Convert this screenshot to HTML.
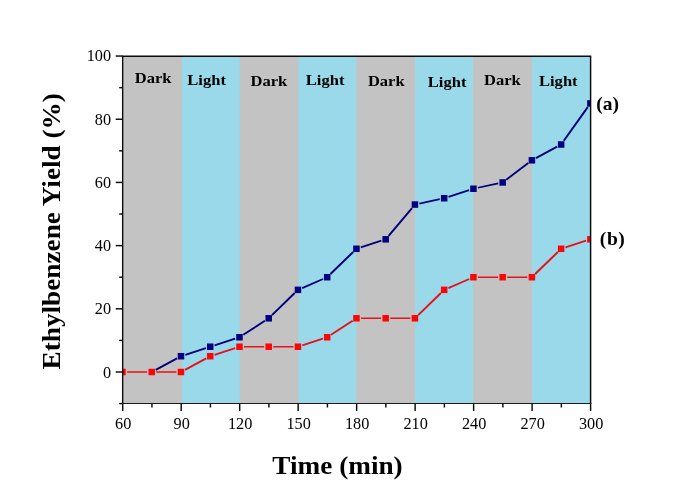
<!DOCTYPE html>
<html><head><meta charset="utf-8"><title>Ethylbenzene Yield vs Time</title>
<style>html,body{margin:0;padding:0;background:#fff}body{width:685px;height:484px;overflow:hidden;font-family:"Liberation Serif",serif}svg{display:block;will-change:transform;transform:translateZ(0)}text{font-family:"Liberation Serif",serif;fill:#000}.b{font-weight:bold}</style>
</head><body>
<svg width="685" height="484" viewBox="0 0 685 484">
<rect width="685" height="484" fill="#fff"/>
<defs><clipPath id="c"><rect x="122.7" y="56.05" width="467.9" height="347.55"/></clipPath></defs>
<rect x="123.4" y="56.9" width="466.6" height="346.1" fill="#c3c3c3"/>
<rect x="182" y="56.9" width="57.7" height="346.1" fill="#99d9ea"/>
<rect x="298.5" y="56.9" width="57.9" height="346.1" fill="#99d9ea"/>
<rect x="415.1" y="56.9" width="57.9" height="346.1" fill="#99d9ea"/>
<rect x="532" y="56.9" width="58" height="346.1" fill="#99d9ea"/>
<g clip-path="url(#c)" stroke="#00007a" stroke-width="1.4" fill="#000080">
<line x1="155.75" y1="369.84" x2="176.98" y2="358.37" stroke-width="1.88"/>
<line x1="185.32" y1="354.8" x2="205.9" y2="348.13" stroke-width="1.76"/>
<line x1="214.56" y1="345.33" x2="235.15" y2="338.65" stroke-width="1.76"/>
<line x1="243.29" y1="334.77" x2="264.9" y2="320.77" stroke-width="1.91"/>
<line x1="271.98" y1="315.12" x2="294.7" y2="293.03" stroke-width="1.95"/>
<line x1="302.14" y1="288.05" x2="323.03" y2="279.02" stroke-width="1.83"/>
<line x1="330.47" y1="274.05" x2="353.19" y2="251.95" stroke-width="1.95"/>
<line x1="360.78" y1="247.38" x2="381.37" y2="240.71" stroke-width="1.76"/>
<line x1="388.62" y1="235.82" x2="412.01" y2="208.03" stroke-width="1.94"/>
<line x1="419.38" y1="203.59" x2="439.73" y2="199.19" stroke-width="1.69"/>
<line x1="448.51" y1="196.83" x2="469.1" y2="190.15" stroke-width="1.76"/>
<line x1="477.87" y1="187.79" x2="498.22" y2="183.39" stroke-width="1.69"/>
<line x1="506.3" y1="179.69" x2="528.28" y2="163.06" stroke-width="1.93"/>
<line x1="535.92" y1="158.15" x2="557.15" y2="146.68" stroke-width="1.88"/>
<line x1="563.8" y1="140.81" x2="587.76" y2="107.15" stroke-width="1.93"/>
<rect x="177.74" y="352.96" width="6.5" height="6.5" stroke="none"/>
<rect x="206.98" y="343.48" width="6.5" height="6.5" stroke="none"/>
<rect x="236.23" y="334" width="6.5" height="6.5" stroke="none"/>
<rect x="265.47" y="315.04" width="6.5" height="6.5" stroke="none"/>
<rect x="294.71" y="286.61" width="6.5" height="6.5" stroke="none"/>
<rect x="323.96" y="273.97" width="6.5" height="6.5" stroke="none"/>
<rect x="353.2" y="245.53" width="6.5" height="6.5" stroke="none"/>
<rect x="382.44" y="236.05" width="6.5" height="6.5" stroke="none"/>
<rect x="411.69" y="201.3" width="6.5" height="6.5" stroke="none"/>
<rect x="440.93" y="194.98" width="6.5" height="6.5" stroke="none"/>
<rect x="470.18" y="185.5" width="6.5" height="6.5" stroke="none"/>
<rect x="499.42" y="179.18" width="6.5" height="6.5" stroke="none"/>
<rect x="528.66" y="157.06" width="6.5" height="6.5" stroke="none"/>
<rect x="557.91" y="141.27" width="6.5" height="6.5" stroke="none"/>
<rect x="587.15" y="100.19" width="6.5" height="6.5" stroke="none"/>
</g>
<g clip-path="url(#c)" stroke="#e8101a" stroke-width="1.4" fill="#fb0606">
<line x1="127.05" y1="372" x2="147.19" y2="372" stroke-width="1.5"/>
<line x1="156.29" y1="372" x2="176.44" y2="372" stroke-width="1.5"/>
<line x1="184.99" y1="369.84" x2="206.23" y2="358.37" stroke-width="1.88"/>
<line x1="214.56" y1="354.8" x2="235.15" y2="348.13" stroke-width="1.76"/>
<line x1="244.03" y1="346.73" x2="264.17" y2="346.73" stroke-width="1.5"/>
<line x1="273.27" y1="346.73" x2="293.41" y2="346.73" stroke-width="1.5"/>
<line x1="302.29" y1="345.33" x2="322.88" y2="338.65" stroke-width="1.76"/>
<line x1="331.02" y1="334.77" x2="352.63" y2="320.77" stroke-width="1.91"/>
<line x1="361" y1="318.29" x2="381.14" y2="318.29" stroke-width="1.5"/>
<line x1="390.24" y1="318.29" x2="410.39" y2="318.29" stroke-width="1.5"/>
<line x1="418.2" y1="315.12" x2="440.92" y2="293.03" stroke-width="1.95"/>
<line x1="448.36" y1="288.05" x2="469.25" y2="279.02" stroke-width="1.83"/>
<line x1="477.98" y1="277.22" x2="498.12" y2="277.22" stroke-width="1.5"/>
<line x1="507.22" y1="277.22" x2="527.36" y2="277.22" stroke-width="1.5"/>
<line x1="535.17" y1="274.05" x2="557.89" y2="251.95" stroke-width="1.95"/>
<line x1="565.48" y1="247.38" x2="586.07" y2="240.71" stroke-width="1.76"/>
<rect x="119.25" y="368.75" width="6.5" height="6.5" stroke="none"/>
<rect x="148.49" y="368.75" width="6.5" height="6.5" stroke="none"/>
<rect x="177.74" y="368.75" width="6.5" height="6.5" stroke="none"/>
<rect x="206.98" y="352.96" width="6.5" height="6.5" stroke="none"/>
<rect x="236.23" y="343.48" width="6.5" height="6.5" stroke="none"/>
<rect x="265.47" y="343.48" width="6.5" height="6.5" stroke="none"/>
<rect x="294.71" y="343.48" width="6.5" height="6.5" stroke="none"/>
<rect x="323.96" y="334" width="6.5" height="6.5" stroke="none"/>
<rect x="353.2" y="315.04" width="6.5" height="6.5" stroke="none"/>
<rect x="382.44" y="315.04" width="6.5" height="6.5" stroke="none"/>
<rect x="411.69" y="315.04" width="6.5" height="6.5" stroke="none"/>
<rect x="440.93" y="286.61" width="6.5" height="6.5" stroke="none"/>
<rect x="470.18" y="273.97" width="6.5" height="6.5" stroke="none"/>
<rect x="499.42" y="273.97" width="6.5" height="6.5" stroke="none"/>
<rect x="528.66" y="273.97" width="6.5" height="6.5" stroke="none"/>
<rect x="557.91" y="245.53" width="6.5" height="6.5" stroke="none"/>
<rect x="587.15" y="236.05" width="6.5" height="6.5" stroke="none"/>
</g>
<g stroke="#0a0a0a" stroke-width="1.45" fill="none">
<path d="M122.7 404V56.15H590.6V404"/>
<line x1="122" y1="403.5" x2="591.3" y2="403.5" stroke-width="1.05" stroke="#1c1c1c"/>
<line x1="119.2" y1="403.6" x2="122.7" y2="403.6"/>
<line x1="115.7" y1="372" x2="122.7" y2="372"/>
<line x1="119.2" y1="340.41" x2="122.7" y2="340.41"/>
<line x1="115.7" y1="308.81" x2="122.7" y2="308.81"/>
<line x1="119.2" y1="277.22" x2="122.7" y2="277.22"/>
<line x1="115.7" y1="245.62" x2="122.7" y2="245.62"/>
<line x1="119.2" y1="214.03" x2="122.7" y2="214.03"/>
<line x1="115.7" y1="182.43" x2="122.7" y2="182.43"/>
<line x1="119.2" y1="150.84" x2="122.7" y2="150.84"/>
<line x1="115.7" y1="119.24" x2="122.7" y2="119.24"/>
<line x1="119.2" y1="87.65" x2="122.7" y2="87.65"/>
<line x1="115.7" y1="56.05" x2="122.7" y2="56.05"/>
<line x1="122.7" y1="403.6" x2="122.7" y2="411"/>
<line x1="151.94" y1="403.6" x2="151.94" y2="407.5"/>
<line x1="181.19" y1="403.6" x2="181.19" y2="411"/>
<line x1="210.43" y1="403.6" x2="210.43" y2="407.5"/>
<line x1="239.68" y1="403.6" x2="239.68" y2="411"/>
<line x1="268.92" y1="403.6" x2="268.92" y2="407.5"/>
<line x1="298.16" y1="403.6" x2="298.16" y2="411"/>
<line x1="327.41" y1="403.6" x2="327.41" y2="407.5"/>
<line x1="356.65" y1="403.6" x2="356.65" y2="411"/>
<line x1="385.89" y1="403.6" x2="385.89" y2="407.5"/>
<line x1="415.14" y1="403.6" x2="415.14" y2="411"/>
<line x1="444.38" y1="403.6" x2="444.38" y2="407.5"/>
<line x1="473.62" y1="403.6" x2="473.62" y2="411"/>
<line x1="502.87" y1="403.6" x2="502.87" y2="407.5"/>
<line x1="532.11" y1="403.6" x2="532.11" y2="411"/>
<line x1="561.36" y1="403.6" x2="561.36" y2="407.5"/>
<line x1="590.6" y1="403.6" x2="590.6" y2="411"/>
</g>
<g font-size="16.25">
<text transform="translate(111.1,378) scale(1,1.06)" text-anchor="end">0</text>
<text transform="translate(111.1,314) scale(1,1.06)" text-anchor="end">20</text>
<text transform="translate(111.1,251) scale(1,1.06)" text-anchor="end">40</text>
<text transform="translate(111.1,188) scale(1,1.06)" text-anchor="end">60</text>
<text transform="translate(111.1,125) scale(1,1.06)" text-anchor="end">80</text>
<text transform="translate(111.1,61) scale(1,1.06)" text-anchor="end">100</text>
<text transform="translate(123.2,429) scale(1,1.06)" text-anchor="middle">60</text>
<text transform="translate(181.69,429) scale(1,1.06)" text-anchor="middle">90</text>
<text transform="translate(240.18,429) scale(1,1.06)" text-anchor="middle">120</text>
<text transform="translate(298.66,429) scale(1,1.06)" text-anchor="middle">150</text>
<text transform="translate(357.15,429) scale(1,1.06)" text-anchor="middle">180</text>
<text transform="translate(415.64,429) scale(1,1.06)" text-anchor="middle">210</text>
<text transform="translate(474.12,429) scale(1,1.06)" text-anchor="middle">240</text>
<text transform="translate(532.61,429) scale(1,1.06)" text-anchor="middle">270</text>
<text transform="translate(591.1,429) scale(1,1.06)" text-anchor="middle">300</text>
</g>
<g class="b" font-size="15.4">
<text transform="translate(134.8,83) scale(1.075,1)">Dark</text>
<text transform="translate(187.3,85) scale(1.075,1)">Light</text>
<text transform="translate(250.5,86) scale(1.075,1)">Dark</text>
<text transform="translate(305.8,85) scale(1.075,1)">Light</text>
<text transform="translate(367.9,86) scale(1.075,1)">Dark</text>
<text transform="translate(427.8,87) scale(1.075,1)">Light</text>
<text transform="translate(484,85) scale(1.075,1)">Dark</text>
<text transform="translate(539,86) scale(1.075,1)">Light</text>
</g>
<g class="b" font-size="19.5">
<text x="596.2" y="110">(a)</text>
<text x="599.8" y="245" letter-spacing="0.6">(b)</text>
</g>
<g class="b" font-size="25.4">
<text transform="translate(337.5,474.2) scale(1.072,1)" text-anchor="middle">Time (min)</text>
<text transform="translate(60,231.3) rotate(-90) scale(1.072,1)" text-anchor="middle">Ethylbenzene Yield (%)</text>
</g>
</svg>
</body></html>
